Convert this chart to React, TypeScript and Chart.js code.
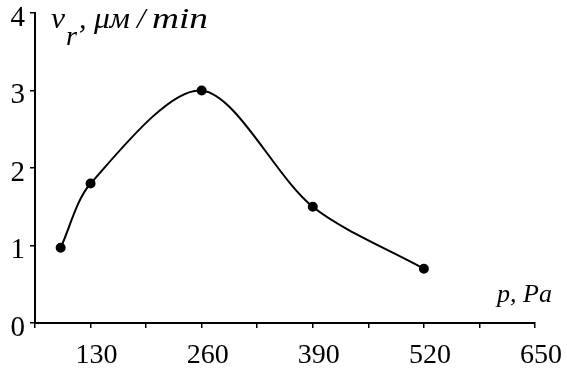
import React, { useEffect, useRef } from "react";
import { Chart, registerables } from "chart.js";

Chart.register(...registerables);

const pressure = [95, 130, 260, 390, 520];
const rate = [0.97, 1.8, 3.0, 1.5, 0.7];
const xTickLabels = [130, 260, 390, 520, 650];
const yTitleMain = "v";
const yTitleSub = "r";
const yTitleParts = [",", "μм", "/", "min"];
const xTitle = "p, Pa";

const FONT = "'Liberation Serif', 'Times New Roman', serif";

function fitText(ctx: any, text: string, x: number, y: number, width: number) {
  const w = ctx.measureText(text).width;
  const s = w > 0 && width > 0 ? width / w : 1;
  ctx.save();
  ctx.translate(x, y);
  ctx.scale(s, 1);
  ctx.fillText(text, 0, 0);
  ctx.restore();
}

const titlePlugin = {
  id: "axisTitles",
  afterDraw(chart: any) {
    const ctx = chart.ctx;
    ctx.save();
    ctx.fillStyle = "#000";
    ctx.textBaseline = "alphabetic";
    ctx.textAlign = "left";
    ctx.font = `italic 30px ${FONT}`;
    fitText(ctx, yTitleMain, 51, 28, 14);
    ctx.font = `italic 27px ${FONT}`;
    fitText(ctx, yTitleSub, 66, 45, 11);
    ctx.font = `italic 30px ${FONT}`;
    const xs = [79, 94, 137, 152];
    const ws = [0, 36, 0, 56];
    yTitleParts.forEach((t, i) => fitText(ctx, t, xs[i], 28, ws[i]));
    ctx.font = `italic 26px ${FONT}`;
    ctx.fillText(xTitle, 497, 302);
    ctx.restore();
  },
};

export default function App() {
  const ref = useRef<HTMLCanvasElement | null>(null);
  useEffect(() => {
    document.body.style.margin = "0";
    let chart: any = null;
    let cancelled = false;
    const make = () => {
      if (cancelled) return;
      const canvas = ref.current!;
      chart = new Chart(canvas, {
        type: "line",
        data: {
          datasets: [
            {
              data: pressure.map((p, i) => ({ x: p, y: rate[i] })),
              borderColor: "#000",
              backgroundColor: "#000",
              borderWidth: 2,
              tension: 0.3,
              pointRadius: 4,
              pointBackgroundColor: "#000",
              pointBorderColor: "#000",
              fill: false,
            },
          ],
        },
        options: {
          animation: false,
          responsive: false,
          maintainAspectRatio: false,
          layout: { padding: { top: 13, right: 32, left: 0, bottom: 0 } },
          plugins: { legend: { display: false }, tooltip: { enabled: false } },
          scales: {
            x: {
              type: "linear",
              min: 65,
              max: 650,
              afterFit(scale: any) {
                scale.height = 48;
                scale.paddingLeft = 0;
                scale.paddingRight = 0;
              },
              border: { display: true, color: "#000", width: 2 },
              grid: { drawOnChartArea: false, drawTicks: true, tickLength: 5, color: "#000", lineWidth: 1.5 },
              ticks: {
                stepSize: 65,
                autoSkip: false,
                maxRotation: 0,
                padding: 11,
                labelOffset: 6,
                color: "#000",
                font: { family: FONT, size: 28 },
                callback: (v: any) => (xTickLabels.includes(Number(v)) ? String(v) : ""),
              },
            },
            y: {
              min: 0,
              max: 4,
              afterFit(scale: any) {
                scale.width = 35;
                scale.paddingTop = 0;
                scale.paddingBottom = 0;
              },
              border: { display: true, color: "#000", width: 2 },
              grid: { drawOnChartArea: false, drawTicks: true, tickLength: 5, color: "#000", lineWidth: 1.5 },
              ticks: {
                stepSize: 1,
                padding: 5,
                labelOffset: 5,
                color: "#000",
                font: { family: FONT, size: 29 },
              },
            },
          },
        },
        plugins: [titlePlugin],
      });
    };
    const fonts: any = (document as any).fonts;
    if (fonts && fonts.load) {
      Promise.all([
        fonts.load(`28px 'Liberation Serif'`),
        fonts.load(`italic 30px 'Liberation Serif'`),
      ])
        .catch(() => null)
        .then(make);
    } else {
      make();
    }
    return () => {
      cancelled = true;
      if (chart) chart.destroy();
    };
  }, []);
  return (
    <div style={{ width: 567, height: 371, background: "#fff" }}>
      <canvas ref={ref} width={567} height={371} style={{ display: "block" }} />
    </div>
  );
}
